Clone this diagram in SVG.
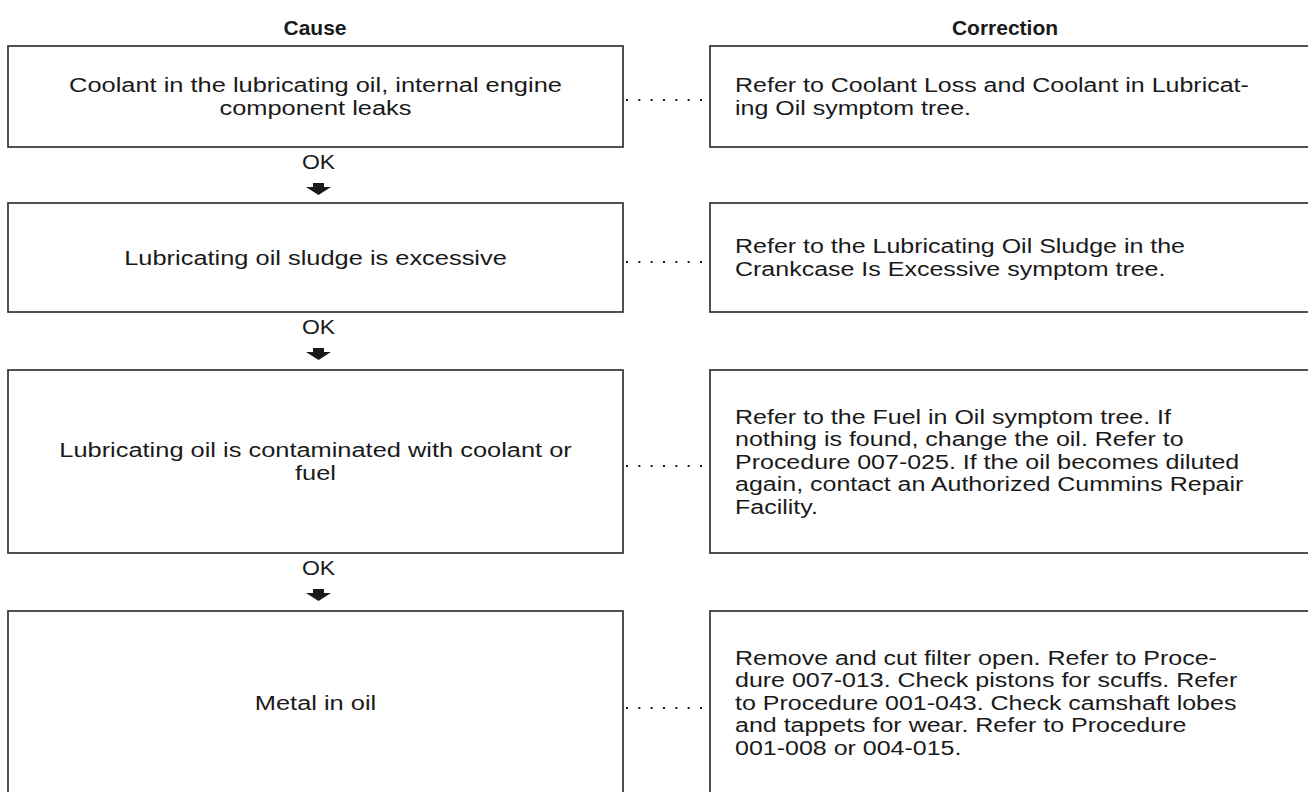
<svg xmlns="http://www.w3.org/2000/svg" width="1308" height="792" viewBox="0 0 1308 792">
<style>
  .box { fill: #ffffff; stroke: #333333; stroke-width: 1.7; }
  .t { font-family: "Liberation Sans", Arial, Helvetica, sans-serif; font-size: 20px; fill: #1a1a1a; }
  .h { font-family: "Liberation Sans", Arial, Helvetica, sans-serif; font-size: 21px; font-weight: bold; fill: #1a1a1a; text-anchor: middle; }
  .c { text-anchor: middle; }
  .dots { stroke: #1a1a1a; stroke-width: 2; stroke-dasharray: 2 10.33; fill: none; }
  .arr { fill: #1a1a1a; }
</style>
<rect width="1308" height="792" fill="#ffffff"/>

<g id="headers">
  <text class="h" x="315" y="35">Cause</text>
  <text class="h" x="1005" y="35">Correction</text>
</g>

<g id="cause1">
  <rect class="box" x="8" y="46" width="615" height="101"/>
  <g transform="translate(315.5 0) scale(1.27 1)">
    <text class="t c" x="0" y="92.5">Coolant in the lubricating oil, internal engine</text>
    <text class="t c" x="0" y="115">component leaks</text>
  </g>
</g>
<g id="correction1">
  <rect class="box" x="710" y="46" width="600" height="101"/>
  <g transform="translate(735 0) scale(1.25 1)">
    <text class="t" x="0" y="92.5">Refer to Coolant Loss and Coolant in Lubricat-</text>
    <text class="t" x="0" y="115">ing Oil symptom tree.</text>
  </g>
</g>

<g id="cause2">
  <rect class="box" x="8" y="203" width="615" height="109"/>
  <g transform="translate(315.5 0) scale(1.27 1)">
    <text class="t c" x="0" y="264.7">Lubricating oil sludge is excessive</text>
  </g>
</g>
<g id="correction2">
  <rect class="box" x="710" y="203" width="600" height="109"/>
  <g transform="translate(735 0) scale(1.25 1)">
    <text class="t" x="0" y="253.5">Refer to the Lubricating Oil Sludge in the</text>
    <text class="t" x="0" y="276">Crankcase Is Excessive symptom tree.</text>
  </g>
</g>

<g id="cause3">
  <rect class="box" x="8" y="370" width="615" height="183"/>
  <g transform="translate(315.5 0) scale(1.27 1)">
    <text class="t c" x="0" y="457.5">Lubricating oil is contaminated with coolant or</text>
    <text class="t c" x="0" y="480">fuel</text>
  </g>
</g>
<g id="correction3">
  <rect class="box" x="710" y="370" width="600" height="183"/>
  <g transform="translate(735 0) scale(1.25 1)">
    <text class="t" x="0" y="423.7">Refer to the Fuel in Oil symptom tree. If</text>
    <text class="t" x="0" y="446.2">nothing is found, change the oil. Refer to</text>
    <text class="t" x="0" y="468.7">Procedure 007-025. If the oil becomes diluted</text>
    <text class="t" x="0" y="491.2">again, contact an Authorized Cummins Repair</text>
    <text class="t" x="0" y="513.7">Facility.</text>
  </g>
</g>

<g id="cause4">
  <rect class="box" x="8" y="611" width="615" height="184"/>
  <g transform="translate(315.5 0) scale(1.27 1)">
    <text class="t c" x="0" y="709.7">Metal in oil</text>
  </g>
</g>
<g id="correction4">
  <rect class="box" x="710" y="611" width="600" height="184"/>
  <g transform="translate(735 0) scale(1.25 1)">
    <text class="t" x="0" y="664.7">Remove and cut filter open. Refer to Proce-</text>
    <text class="t" x="0" y="687.2">dure 007-013. Check pistons for scuffs. Refer</text>
    <text class="t" x="0" y="709.7">to Procedure 001-043. Check camshaft lobes</text>
    <text class="t" x="0" y="732.2">and tappets for wear. Refer to Procedure</text>
    <text class="t" x="0" y="754.7">001-008 or 004-015.</text>
  </g>
</g>

<g id="connectors">
  <line class="dots" x1="626" y1="100" x2="702" y2="100"/>
  <line class="dots" x1="626" y1="262" x2="702" y2="262"/>
  <line class="dots" x1="626" y1="466" x2="702" y2="466"/>
  <line class="dots" x1="626" y1="708" x2="702" y2="708"/>

  <g id="ok1">
    <g transform="translate(318.5 0) scale(1.15 1)"><text class="t c" x="0" y="169">OK</text></g>
    <path class="arr" d="M313 183 H324 V187 H331 L318.5 195 L306 187 H313 Z"/>
  </g>
  <g id="ok2">
    <g transform="translate(318.5 0) scale(1.15 1)"><text class="t c" x="0" y="334">OK</text></g>
    <path class="arr" d="M313 348 H324 V352 H331 L318.5 360 L306 352 H313 Z"/>
  </g>
  <g id="ok3">
    <g transform="translate(318.5 0) scale(1.15 1)"><text class="t c" x="0" y="575">OK</text></g>
    <path class="arr" d="M313 589 H324 V593 H331 L318.5 601 L306 593 H313 Z"/>
  </g>
</g>
</svg>
